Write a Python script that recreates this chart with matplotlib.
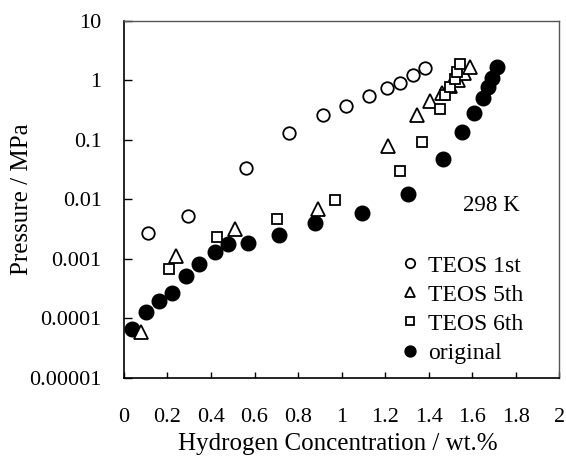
import matplotlib
matplotlib.use("Agg")
import matplotlib.pyplot as plt
from matplotlib.ticker import FixedLocator, FixedFormatter

plt.rcParams['font.family'] = ['Liberation Serif', 'DejaVu Serif']

# TEOS 1st cycle
teos1_x = [0.109, 0.293, 0.560, 0.759, 0.914, 1.021, 1.128, 1.208, 1.269, 1.330, 1.384]
teos1_p = [0.00269, 0.00525, 0.034, 0.132, 0.261, 0.37, 0.545, 0.733, 0.889, 1.20, 1.59]

# TEOS 5th cycle
teos5_x = [0.078, 0.238, 0.510, 0.893, 1.211, 1.345, 1.404, 1.462, 1.499, 1.536, 1.563, 1.591]
teos5_p = [6.0e-5, 0.00112, 0.00314, 0.0068, 0.0787, 0.256, 0.449, 0.611, 0.80, 1.01, 1.32, 1.67]

# TEOS 6th cycle
teos6_x = [0.207, 0.426, 0.702, 0.968, 1.270, 1.369, 1.450, 1.476, 1.499, 1.520, 1.531, 1.545]
teos6_p = [0.00067, 0.00236, 0.00462, 0.00975, 0.0299, 0.0929, 0.325, 0.565, 0.755, 1.03, 1.38, 1.87]

# original sample
orig_x = [0.038, 0.100, 0.161, 0.222, 0.285, 0.346, 0.418, 0.480, 0.569, 0.714,
          0.880, 1.093, 1.303, 1.464, 1.552, 1.607, 1.649, 1.674, 1.691, 1.714]
orig_p = [6.6e-5, 1.27e-4, 1.99e-4, 2.70e-4, 5.2e-4, 8.2e-4, 1.29e-3, 1.76e-3, 1.87e-3, 2.52e-3,
          3.96e-3, 5.83e-3, 0.0123, 0.0471, 0.134, 0.282, 0.498, 0.77, 1.09, 1.69]

x_ticks = [0, 0.2, 0.4, 0.6, 0.8, 1.0, 1.2, 1.4, 1.6, 1.8, 2.0]
x_labels = ['0', '0.2', '0.4', '0.6', '0.8', '1', '1.2', '1.4', '1.6', '1.8', '2']
y_ticks = [1e-5, 1e-4, 1e-3, 1e-2, 1e-1, 1, 10]
y_labels = ['0.00001', '0.0001', '0.001', '0.01', '0.1', '1', '10']

fig = plt.figure(figsize=(5.66, 4.57), dpi=100)
ax = fig.add_axes([0.219, 0.173, 0.769, 0.782])

fs = 16
lw = 1.3

h_orig, = ax.plot(orig_x, orig_p, 'o', ms=10.5, color='black', zorder=2, label='original')
h1, = ax.plot(teos1_x, teos1_p, 'o', ms=9, mfc='white', mec='black', mew=lw, zorder=3, label='TEOS 1st')
h5, = ax.plot(teos5_x, teos5_p, '^', ms=10.5, mfc='white', mec='black', mew=lw, zorder=4, label='TEOS 5th')
h6, = ax.plot(teos6_x, teos6_p, 's', ms=6.8, mfc='white', mec='black', mew=lw, zorder=5, label='TEOS 6th')

ax.set_yscale('log')
ax.set_xlim(0, 2)
ax.set_ylim(1e-5, 10)

ax.xaxis.set_major_locator(FixedLocator(x_ticks))
ax.xaxis.set_major_formatter(FixedFormatter(x_labels))
ax.yaxis.set_major_locator(FixedLocator(y_ticks))
ax.yaxis.set_major_formatter(FixedFormatter(y_labels))
ax.yaxis.set_minor_locator(FixedLocator([]))

ax.tick_params(axis='x', direction='in', length=4.5, width=1, labelsize=fs, pad=22, top=False)
ax.tick_params(axis='y', direction='in', length=5.5, width=1, labelsize=fs, pad=16, right=False)

for s in ['left', 'bottom']:
    ax.spines[s].set_linewidth(1.2)
    ax.spines[s].set_color('black')
for s in ['top', 'right']:
    ax.spines[s].set_linewidth(1.0)
    ax.spines[s].set_color('#555555')

ax.set_xlabel('Hydrogen Concentration / wt.%', fontsize=18)
ax.xaxis.set_label_coords(0.491, -0.155)
ax.set_ylabel('Pressure / MPa', fontsize=18)
ax.yaxis.set_label_coords(-0.234, 0.5)
ax.yaxis.label.set_va('center')

ax.text(1.69, 0.0078, '298 K', fontsize=16.5, ha='center', va='center')

ax.legend([h1, h5, h6, h_orig], ['TEOS 1st', 'TEOS 5th', 'TEOS 6th', 'original'],
          loc='upper left', bbox_to_anchor=(0.641, 0.344), frameon=False, fontsize=17,
          markerscale=0.75, handlelength=0.6, handletextpad=0.45, labelspacing=0.32,
          borderpad=0, borderaxespad=0)

fig.savefig('out.png', dpi=100)
